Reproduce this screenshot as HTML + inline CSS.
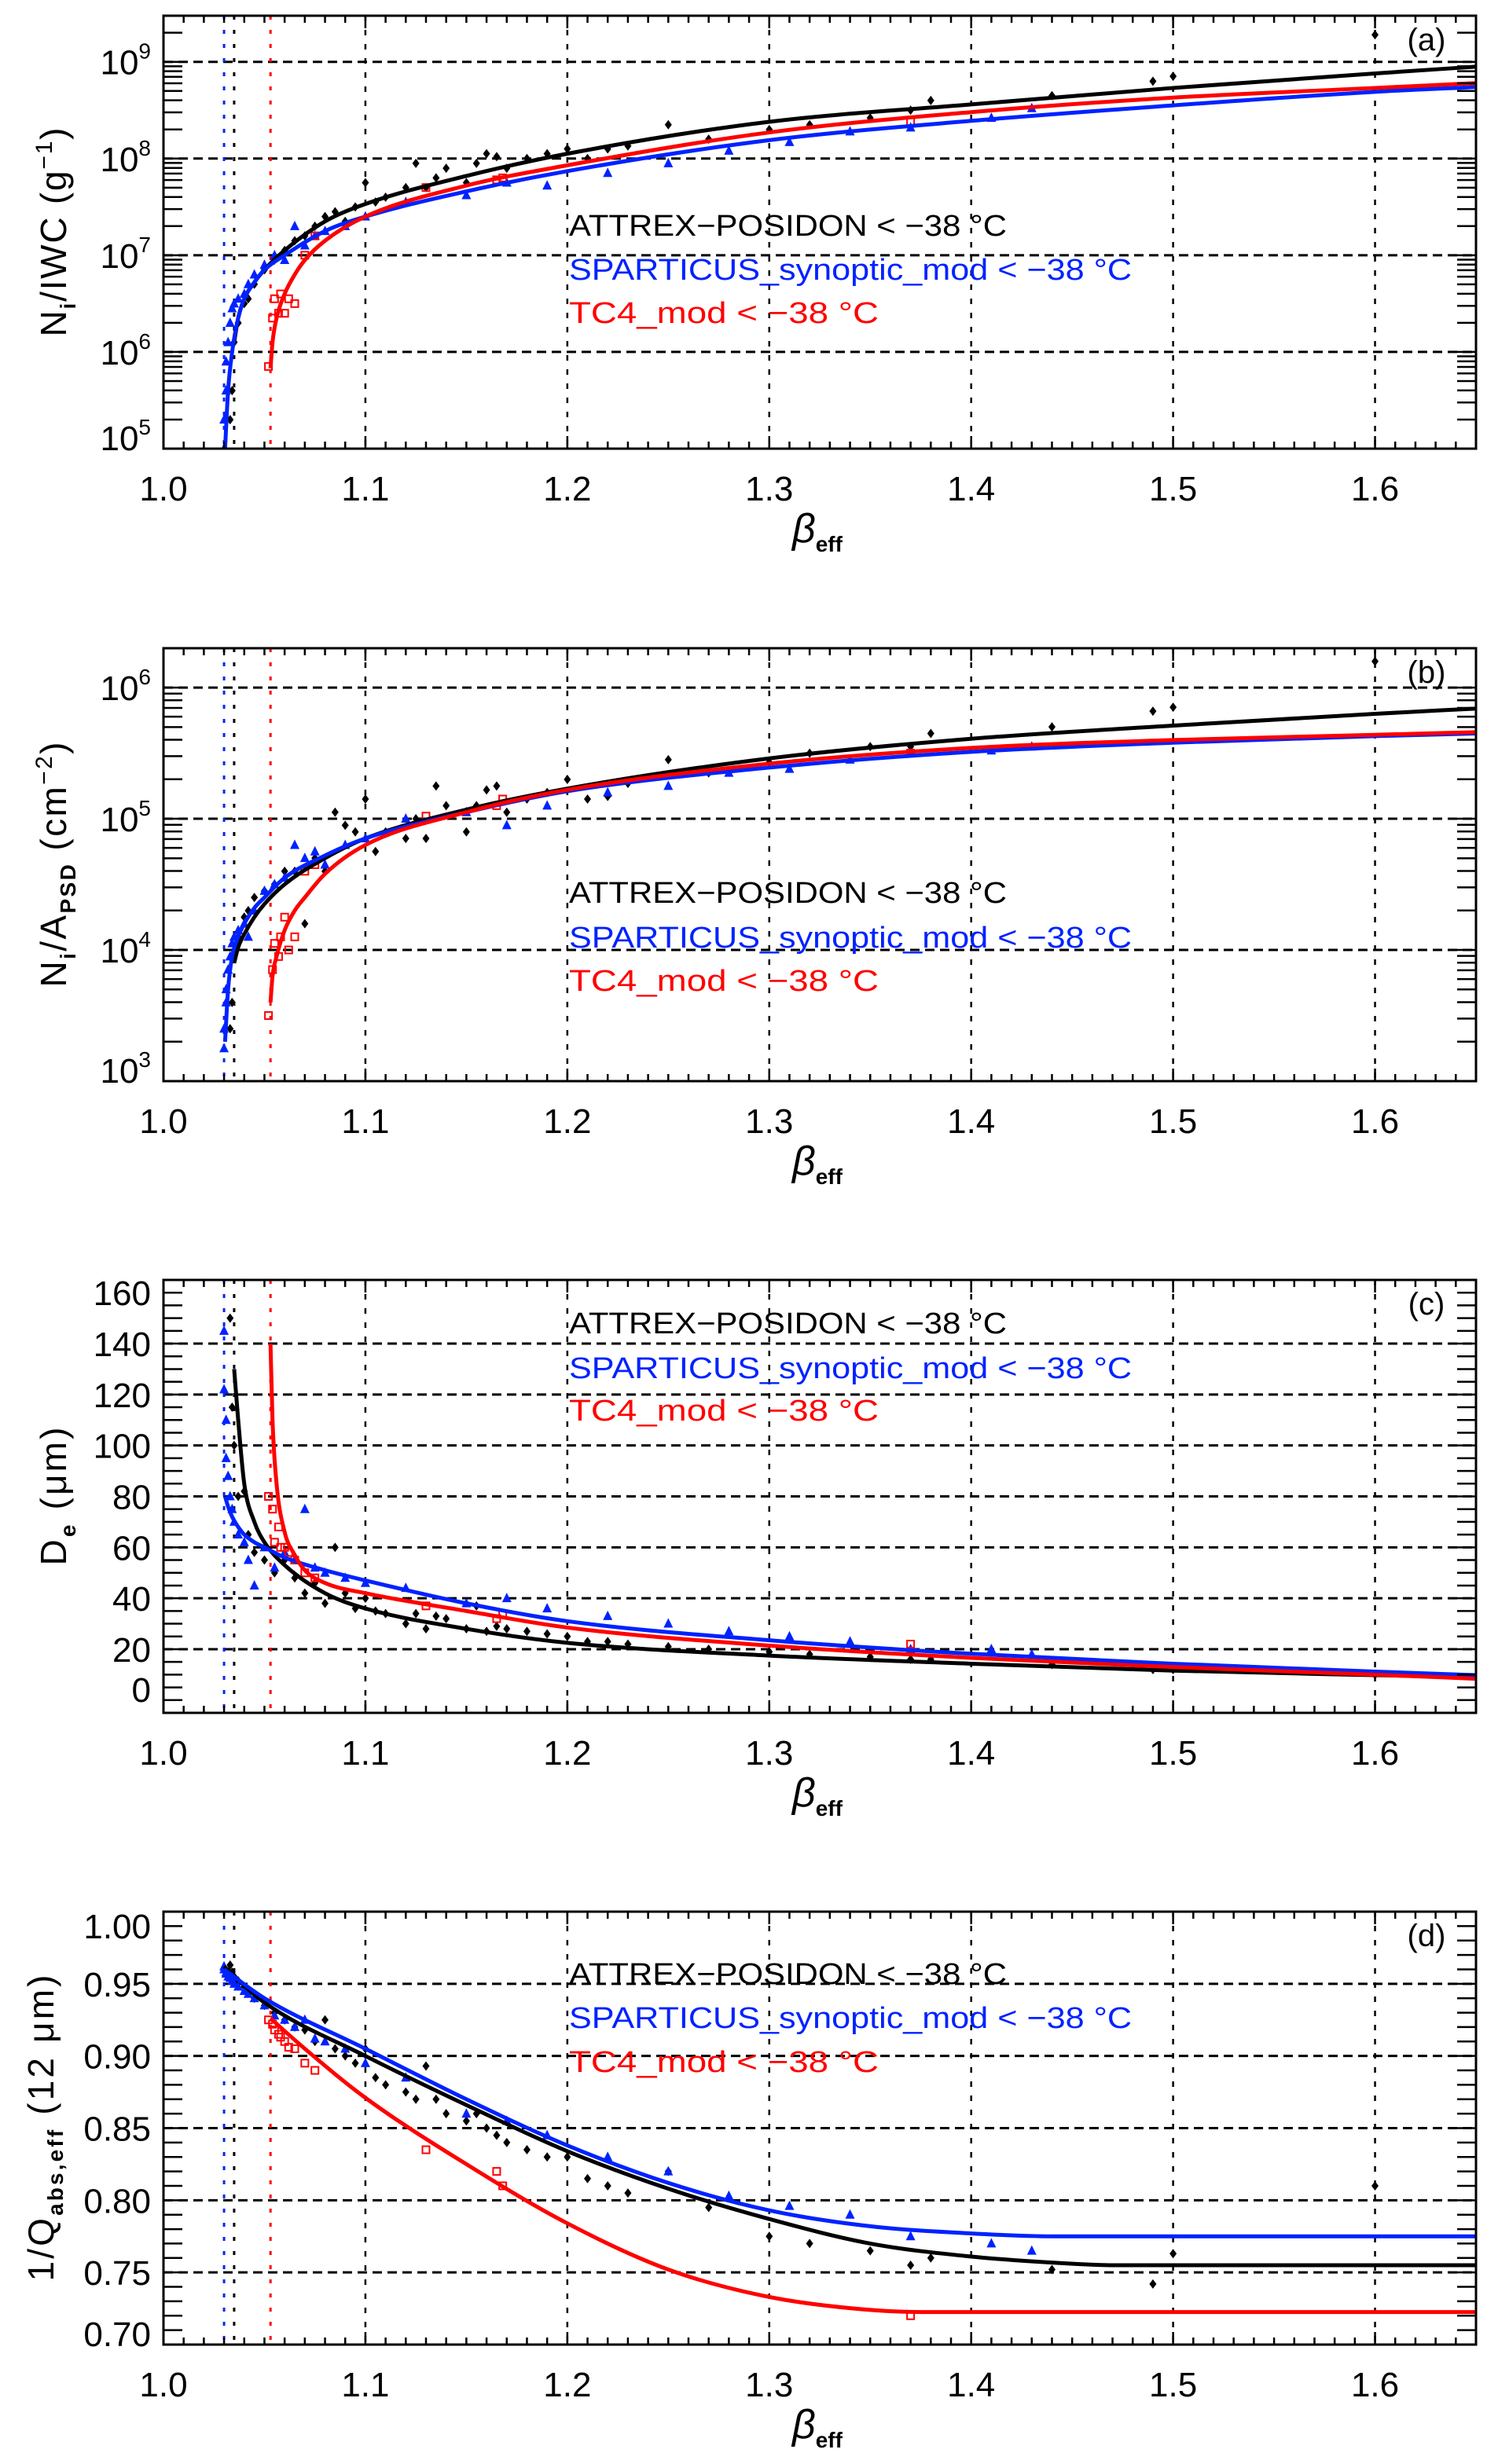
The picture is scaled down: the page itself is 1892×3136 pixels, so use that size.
<!DOCTYPE html>
<html><head><meta charset="utf-8"><title>beta_eff panels</title>
<style>
html,body{margin:0;padding:0;background:#fff;}
svg{display:block;font-family:"Liberation Sans",sans-serif;}
</style></head>
<body>
<svg id="fig" width="1892" height="3136" viewBox="0 0 1892 3136" xmlns="http://www.w3.org/2000/svg"></svg>
<script>
// ---------- data (log panels store log10 values) ----------
const betaBlack = [1.033,1.034,1.035,1.037,1.04,1.042,1.045,1.05,1.055,1.06,1.065,1.07,1.075,1.08,1.085,1.09,1.095,1.1,1.105,1.11,1.12,1.125,1.13,1.135,1.14,1.15,1.155,1.16,1.165,1.17,1.18,1.19,1.2,1.21,1.22,1.23,1.25,1.27,1.3,1.32,1.35,1.37,1.38,1.44,1.49,1.5,1.6];
const aBlackLog = [5.3,5.6,6.1,6.3,6.5,6.55,6.7,6.85,6.95,7.05,7.15,7.2,7.3,7.4,7.45,7.35,7.5,7.75,7.55,7.6,7.7,7.95,7.7,7.8,7.9,7.75,7.95,8.05,8.02,7.9,8.0,8.05,8.1,8.0,8.1,8.13,8.35,8.2,8.3,8.35,8.42,8.5,8.6,8.65,8.8,8.85,9.28];
const bBlackLog = [3.4,3.6,3.95,4.1,4.25,4.3,4.4,4.45,4.5,4.6,4.6,4.2,4.7,4.6,5.05,4.95,4.9,5.15,4.75,4.9,4.85,5.0,4.85,5.25,5.1,4.9,5.1,5.22,5.25,5.05,5.15,5.2,5.3,5.15,5.17,5.27,5.45,5.35,5.43,5.5,5.55,5.55,5.65,5.7,5.82,5.85,6.2];
const cBlack = [150,115,100,80,82,65,58,55,50,55,48,42,46,38,60,42,36,40,35,34,30,34,28,33,32,28,37,27,29,28,27,26,25,23,23,22,21,20,19,18,17,16,16,14,12,12,10];
const dBlack = [0.963,0.958,0.955,0.952,0.948,0.945,0.94,0.935,0.93,0.925,0.92,0.918,0.91,0.925,0.905,0.9,0.895,0.905,0.885,0.88,0.875,0.87,0.893,0.87,0.86,0.855,0.86,0.85,0.845,0.84,0.835,0.83,0.83,0.815,0.81,0.805,0.82,0.795,0.775,0.77,0.765,0.755,0.76,0.752,0.742,0.763,0.81];

const betaBlue = [1.03,1.03,1.031,1.031,1.032,1.033,1.034,1.035,1.037,1.04,1.042,1.045,1.05,1.055,1.06,1.065,1.07,1.075,1.08,1.09,1.1,1.12,1.15,1.17,1.19,1.22,1.25,1.28,1.31,1.34,1.37,1.41,1.43];
const aBlueLog = [5.0,5.3,5.6,5.9,6.1,6.3,6.45,6.5,6.55,6.6,6.7,6.8,6.9,7.0,6.95,7.3,7.1,7.2,7.25,7.3,7.4,7.55,7.62,7.75,7.72,7.85,7.95,8.08,8.17,8.28,8.32,8.42,8.52];
const bBlueLog = [3.25,3.4,3.6,3.7,3.85,3.95,4.05,4.1,4.15,4.2,4.1,4.3,4.45,4.5,4.55,4.8,4.7,4.75,4.65,4.8,4.85,5.0,5.05,4.95,5.1,5.2,5.25,5.35,5.38,5.45,5.5,5.52,5.55];
const cBlue = [145,122,110,95,88,80,75,70,65,62,55,45,60,52,58,55,75,52,50,48,46,44,38,40,36,33,30,27,25,23,20,20,18];
const dBlue = [0.962,0.96,0.958,0.957,0.955,0.954,0.952,0.95,0.948,0.945,0.943,0.94,0.935,0.928,0.925,0.92,0.925,0.912,0.91,0.905,0.895,0.885,0.86,0.855,0.845,0.83,0.82,0.803,0.796,0.79,0.775,0.77,0.765];

const betaRed = [1.052,1.054,1.055,1.057,1.058,1.06,1.062,1.065,1.07,1.075,1.13,1.165,1.168,1.37];
const aRedLog = [5.85,6.35,6.55,6.4,6.6,6.4,6.55,6.5,7.0,7.2,7.7,7.78,7.8,8.38];
const bRedLog = [3.5,3.85,4.05,3.95,4.1,4.25,4.0,4.1,4.6,4.65,5.02,5.1,5.15,5.5];
const cRed = [80,75,62,68,60,60,58,55,50,48,37,32,34,22];
const dRed = [0.925,0.922,0.918,0.915,0.913,0.91,0.906,0.905,0.895,0.89,0.835,0.82,0.81,0.72];

// fitted curves
const fitBetaBlack = [1.035,1.037,1.04,1.045,1.05,1.06,1.08,1.1,1.15,1.2,1.3,1.4,1.5,1.6,1.65];
const fitABlack = [6.1,6.35,6.55,6.72,6.85,7.05,7.35,7.53,7.82,8.05,8.38,8.56,8.73,8.88,8.95];
const fitBBlack = [3.9,4.02,4.12,4.25,4.35,4.5,4.7,4.85,5.07,5.23,5.46,5.61,5.71,5.8,5.84];
const fitCBlack = [130,110,85,70,62,53,42,36,28,22.5,17.5,14.3,11.6,9.8,9.0];
const fitBetaBlue = [1.0305,1.032,1.034,1.037,1.04,1.045,1.05,1.06,1.08,1.1,1.15,1.2,1.3,1.4,1.5,1.6,1.65];
const fitABlue = [5.0,5.6,6.0,6.35,6.55,6.72,6.85,7.0,7.25,7.4,7.66,7.87,8.19,8.39,8.55,8.69,8.74];
const fitBBlue = [3.3,3.7,3.95,4.1,4.2,4.32,4.4,4.55,4.72,4.85,5.05,5.21,5.39,5.51,5.58,5.63,5.65];
const fitCBlue = [80,76,72,68,65,62,60,56,51,47,38,31,23.5,18.2,14.3,11.2,9.8];
const fitBetaRed = [1.053,1.054,1.056,1.06,1.065,1.07,1.08,1.1,1.15,1.2,1.3,1.4,1.5,1.6,1.65];
const fitARed = [5.83,6.1,6.35,6.6,6.8,6.95,7.15,7.4,7.72,7.93,8.27,8.48,8.63,8.73,8.78];
const fitBRed = [3.6,3.8,3.95,4.15,4.3,4.4,4.58,4.8,5.05,5.22,5.42,5.54,5.6,5.64,5.66];
const fitCRed = [140,110,85,66,57,51,46,42,35,28.5,21.4,16.6,13,10,8.4];
const fitDBetaBlack = [1.03,1.05,1.1,1.15,1.2,1.25,1.3,1.35,1.4,1.45,1.47,1.65];
const fitDBlack = [0.962,0.937,0.90,0.866,0.834,0.808,0.787,0.77,0.761,0.756,0.755,0.755];
const fitDBetaBlue = [1.03,1.05,1.1,1.15,1.2,1.25,1.3,1.35,1.4,1.44,1.65];
const fitDBlue = [0.960,0.940,0.905,0.870,0.838,0.812,0.793,0.782,0.777,0.775,0.775];
const fitDBetaRed = [1.053,1.07,1.1,1.15,1.2,1.25,1.3,1.35,1.38,1.65];
const fitDRed = [0.926,0.905,0.871,0.825,0.784,0.752,0.733,0.724,0.7225,0.7225];

const xTickLabels = ["1.0","1.1","1.2","1.3","1.4","1.5","1.6"];
const thresholdBetas = [1.030,1.035,1.053];
const legendTexts = ["ATTREX\u2212POSIDON < \u221238 \u00B0C","SPARTICUS_synoptic_mod < \u221238 \u00B0C","TC4_mod < \u221238 \u00B0C"];

// ---------- layout ----------
const NS = "http://www.w3.org/2000/svg";
const svg = document.getElementById('fig');
const X0 = 208, X1 = 1878, B0 = 1.0, B1 = 1.65;
function sx(b){ return X0 + (b - B0) / (B1 - B0) * (X1 - X0); }
function mk(tag, attrs, parent){
  const e = document.createElementNS(NS, tag);
  for (const k in attrs) e.setAttribute(k, attrs[k]);
  (parent || svg).appendChild(e);
  return e;
}

const panels = [
  {id:'a', top:20, bottom:571, min:5, max:9.477, log:true, grid:[6,7,8,9], labels:[5,6,7,8,9],
   title:'a', legendY:[298,354,409], series:[[betaBlack,aBlackLog],[betaBlue,aBlueLog],[betaRed,aRedLog]],
   fits:[[fitBetaBlack,fitABlack],[fitBetaBlue,fitABlue],[fitBetaRed,fitARed]], titleLen:266},
  {id:'b', top:825, bottom:1376, min:3, max:6.3, log:true, grid:[4,5,6], labels:[3,4,5,6],
   title:'b', legendY:[1147,1204,1259], series:[[betaBlack,bBlackLog],[betaBlue,bBlueLog],[betaRed,bRedLog]],
   fits:[[fitBetaBlack,fitBBlack],[fitBetaBlue,fitBBlue],[fitBetaRed,fitBRed]], titleLen:312},
  {id:'c', top:1629, bottom:2180, min:-5, max:165, log:false, grid:[20,40,60,80,100,120,140], labels:[0,20,40,60,80,100,120,140,160],
   minorStep:5, title:'c', legendY:[1695,1752,1806], series:[[betaBlack,cBlack],[betaBlue,cBlue],[betaRed,cRed]],
   fits:[[fitBetaBlack,fitCBlack],[fitBetaBlue,fitCBlue],[fitBetaRed,fitCRed]], titleLen:176},
  {id:'d', top:2433, bottom:2984, min:0.70, max:1.00, log:false, grid:[0.75,0.80,0.85,0.90,0.95], labels:[0.70,0.75,0.80,0.85,0.90,0.95,1.00],
   minorStep:0.01, title:'d', legendY:[2523,2579,2635], series:[[betaBlack,dBlack],[betaBlue,dBlue],[betaRed,dRed]],
   fits:[[fitDBetaBlack,fitDBlack],[fitDBetaBlue,fitDBlue],[fitDBetaRed,fitDRed]], titleLen:390}
];
const colors = ['#000000','#0022ff','#ff0000'];
const seriesNames = ['attrex-posidon','sparticus','tc4'];

function monotonePath(xs, ys, fx, fy){
  const n = xs.length;
  const d = [], m = [];
  for (let i=0;i<n-1;i++) d.push((ys[i+1]-ys[i])/(xs[i+1]-xs[i]));
  m[0]=d[0]; m[n-1]=d[n-2];
  for (let i=1;i<n-1;i++) m[i] = (d[i-1]*d[i] <= 0) ? 0 : (d[i-1]+d[i])/2;
  for (let i=0;i<n-1;i++){
    if (d[i]===0){ m[i]=0; m[i+1]=0; continue; }
    const a=m[i]/d[i], b=m[i+1]/d[i], s=a*a+b*b;
    if (s>9){ const t=3/Math.sqrt(s); m[i]=t*a*d[i]; m[i+1]=t*b*d[i]; }
  }
  let p = 'M'+fx(xs[0]).toFixed(2)+','+fy(ys[0]).toFixed(2);
  for (let i=0;i<n-1;i++){
    const h = xs[i+1]-xs[i];
    p += ' C'+fx(xs[i]+h/3).toFixed(2)+','+fy(ys[i]+m[i]*h/3).toFixed(2)+' '+
         fx(xs[i+1]-h/3).toFixed(2)+','+fy(ys[i+1]-m[i+1]*h/3).toFixed(2)+' '+
         fx(xs[i+1]).toFixed(2)+','+fy(ys[i+1]).toFixed(2);
  }
  return p;
}

panels.forEach((P, pi) => {
  const g = mk('g', {});
  
  
  const sy = v => P.bottom - (v - P.min) / (P.max - P.min) * (P.bottom - P.top);

  const cp = mk('clipPath', {id:'clip'+P.id}, g);
  mk('rect', {x:X0, y:P.top, width:X1-X0, height:P.bottom-P.top}, cp);

  P.grid.forEach(v => {
    const l = mk('line', {x1:X0, x2:X1, y1:sy(v), y2:sy(v), stroke:'#000', 'stroke-width':3, 'stroke-dasharray':'12 7'}, g);
    
    
  });
  for (let k=1;k<=6;k++){
    const x = sx(1+k*0.1);
    const l = mk('line', {x1:x, x2:x, y1:P.top, y2:P.bottom, stroke:'#000', 'stroke-width':2.5, 'stroke-dasharray':'7 11'}, g);
    
    
  }
  thresholdBetas.forEach((b, i) => {
    const c = [colors[1], colors[0], colors[2]][i];
    const l = mk('line', {x1:sx(b), x2:sx(b), y1:P.top, y2:P.bottom, stroke:c, 'stroke-width':3, 'stroke-dasharray':'5 13'}, g);
    
    
  });

  const pg = mk('g', {'clip-path':'url(#clip'+P.id+')'}, g);
  P.series.forEach((S, si) => {
    const bs = S[0], vs = S[1];
    for (let i=0;i<bs.length;i++){
      const x = sx(bs[i]), y = sy(vs[i]);
      let e;
      if (si===0) e = mk('path', {d:`M${x},${y-6}L${x+4.5},${y}L${x},${y+6}L${x-4.5},${y}Z`, fill:'#000'}, pg);
      else if (si===1) e = mk('path', {d:`M${x},${y-7}L${x+6},${y+5}L${x-6},${y+5}Z`, fill:colors[1]}, pg);
      else e = mk('rect', {x:x-4.5, y:y-4.5, width:9, height:9, fill:'none', stroke:colors[2], 'stroke-width':2}, pg);
      
      
    }
  });
  P.fits.forEach((F, si) => {
    const e = mk('path', {d:monotonePath(F[0], F[1], sx, sy), fill:'none', stroke:colors[si], 'stroke-width':5, 'clip-path':'url(#clip'+P.id+')'}, g);
    
    
  });

  for (let k=0;k<=65;k++){
    const x = sx(1+k*0.01), L = (k%10===0) ? 16 : 9;
    mk('line', {x1:x, x2:x, y1:P.bottom, y2:P.bottom-L, stroke:'#000','stroke-width':2.5}, g);
    mk('line', {x1:x, x2:x, y1:P.top, y2:P.top+L, stroke:'#000','stroke-width':2.5}, g);
  }
  const yt = [];
  if (P.log){
    for (let e=Math.floor(P.min); e<=Math.ceil(P.max); e++)
      for (let k=1;k<=9;k++){ const v = e+Math.log10(k); if (v>=P.min-1e-6 && v<=P.max) yt.push(v); }
  } else {
    for (let v=Math.ceil(P.min/P.minorStep)*P.minorStep; v<=P.max+1e-9; v+=P.minorStep) yt.push(v);
  }
  yt.forEach(v => {
    mk('line', {x1:X0, x2:X0+24, y1:sy(v), y2:sy(v), stroke:'#000','stroke-width':2.5}, g);
    mk('line', {x1:X1, x2:X1-24, y1:sy(v), y2:sy(v), stroke:'#000','stroke-width':2.5}, g);
  });
  const fr = mk('rect', {x:X0, y:P.top, width:X1-X0, height:P.bottom-P.top, fill:'none', stroke:'#000','stroke-width':3}, g);
  
  

  xTickLabels.forEach((t, k) => {
    const e = mk('text', {x:sx(1+k*0.1), y:P.bottom+66, 'font-size':44, 'text-anchor':'middle'}, g);
    e.textContent = t;
    
    
  });
  P.labels.forEach((v, i) => {
    let y = sy(v) + 16;
    if (i===0) y -= 14;
    if (i===P.labels.length-1 && !P.log && sy(v)-P.top < 10) y += 18;
    const e = mk('text', {x:192, y:y, 'font-size':44, 'text-anchor':'end'}, g);
    if (P.log){
      const t1 = mk('tspan', {}, e); t1.textContent = '10';
      const t2 = mk('tspan', {'font-size':28, dy:-20}, e); t2.textContent = String(v);
    } else {
      e.textContent = (P.id==='d') ? v.toFixed(2) : String(v);
    }
    
    
  });
  const xt = mk('text', {x:1040, y:P.bottom+119, 'font-size':52, 'text-anchor':'middle', 'font-style':'italic'}, g);
  const xb = mk('tspan', {}, xt); xb.textContent = '\u03B2';
  const xs2 = mk('tspan', {'font-size':28, dy:12, 'font-style':'normal', 'font-weight':'bold'}, xt); xs2.textContent = 'eff';
  
  

  const cy = (P.top + P.bottom) / 2;
  const bx = P.id==='d' ? 68 : 84;
  const yt2 = mk('text', {x:bx, y:cy, 'font-size':46, 'text-anchor':'middle', transform:`rotate(-90 ${bx} ${cy})`, textLength:P.titleLen, lengthAdjust:'spacing'}, g);
  const parts = {
    a:[['N',0],['i',1],['/IWC  (g',0],['\u22121',2],[')',0]],
    b:[['N',0],['i',1],['/A',0],['PSD',1],['  (cm',0],['\u22122',2],[')',0]],
    c:[['D',0],['e',1],['  (\u03BCm)',0]],
    d:[['1/Q',0],['abs,eff',1],['  (12 \u03BCm)',0]]
  }[P.id];
  let shift = 0;
  parts.forEach(([t, kind]) => {
    const ts = mk('tspan', {}, yt2);
    const target = kind===1 ? 12 : (kind===2 ? -18 : 0);
    ts.setAttribute('dy', target - shift); shift = target;
    if (kind) ts.setAttribute('font-size', kind===1 ? 28 : 30);
    if (kind===1) ts.setAttribute('font-weight', 'bold');
    ts.textContent = t;
  });
  
  

  const legLens = [557, 716, 394];
  legendTexts.forEach((t, i) => {
    const e = mk('text', {x:724, y:P.legendY[i]+2, 'font-size':38, fill:colors[i], textLength:legLens[i], lengthAdjust:'spacingAndGlyphs'}, g);
    e.textContent = t;
    
    
  });
  const pl = mk('text', {x:1815, y:P.top+44, 'font-size':40, 'text-anchor':'middle'}, g);
  pl.textContent = '(' + P.title + ')';
  
  
});
</script>
</body></html>
